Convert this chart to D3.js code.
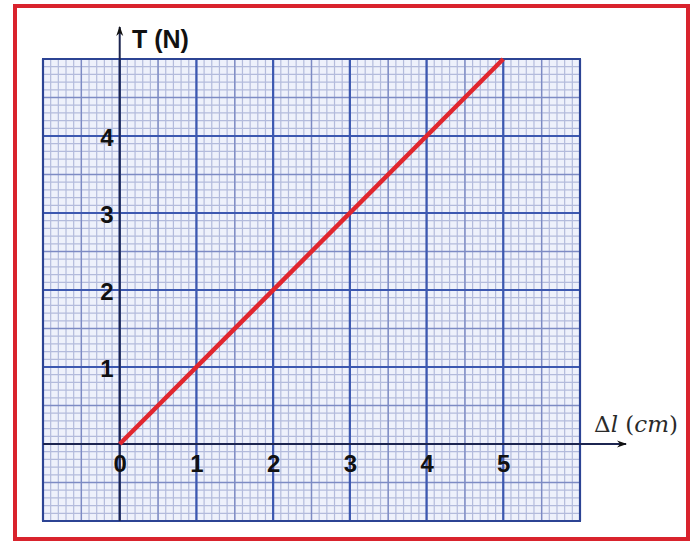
<!DOCTYPE html>
<html>
<head>
<meta charset="utf-8">
<script src="https://cdn.jsdelivr.net/npm/d3@7"></script>
<style>
  body { margin: 0; background: #fff; }
  svg { display: block; }
</style>
</head>
<body>
<script>
// values
var lineData = [{dl: 0, T: 0}, {dl: 5, T: 5}];
var xTicks = [0, 1, 2, 3, 4, 5];
var yTicks = [1, 2, 3, 4];
var yLabel = "T (N)";

var width = 697, height = 541;

var svg = d3.select("body").append("svg")
  .attr("width", width)
  .attr("height", height);

// red frame
svg.append("rect")
  .attr("x", 15).attr("y", 6)
  .attr("width", 673).attr("height", 533)
  .attr("fill", "#fff")
  .attr("stroke", "#d9232d")
  .attr("stroke-width", 4);

var x = d3.scaleLinear().domain([-1, 6]).range([43, 580]);
var y = d3.scaleLinear().domain([-1, 5]).range([521, 59]);

var g = svg.append("g");

// graph paper
g.append("rect")
  .attr("x", x(-1)).attr("y", y(5))
  .attr("width", x(6) - x(-1)).attr("height", y(-1) - y(5))
  .attr("fill", "#eef1fb");

function gridLines(step, color, w) {
  var xs = d3.range(-1, 6.0001, step), ys = d3.range(-1, 5.0001, step);
  g.append("g").selectAll("line").data(xs).enter().append("line")
    .attr("x1", function(d) { return x(d); }).attr("x2", function(d) { return x(d); })
    .attr("y1", y(-1)).attr("y2", y(5))
    .attr("stroke", color).attr("stroke-width", w);
  g.append("g").selectAll("line").data(ys).enter().append("line")
    .attr("y1", function(d) { return y(d); }).attr("y2", function(d) { return y(d); })
    .attr("x1", x(-1)).attr("x2", x(6))
    .attr("stroke", color).attr("stroke-width", w);
}
gridLines(0.1, "#b3bbdc", 1.2);
gridLines(0.5, "#7d8bc4", 1.4);
gridLines(1, "#3c58b0", 2.2);

// border of the paper
g.append("rect")
  .attr("x", x(-1)).attr("y", y(5))
  .attr("width", x(6) - x(-1)).attr("height", y(-1) - y(5))
  .attr("fill", "none")
  .attr("stroke", "#2c4494").attr("stroke-width", 2);

// arrow heads
var defs = svg.append("defs");
defs.append("marker")
  .attr("id", "arrow")
  .attr("viewBox", "0 -4 10 8")
  .attr("refX", 9).attr("refY", 0)
  .attr("markerUnits", "userSpaceOnUse")
  .attr("markerWidth", 11).attr("markerHeight", 8)
  .attr("orient", "auto")
  .append("path")
  .attr("d", "M0,-3.5L10,0L0,3.5L3,0Z")
  .attr("fill", "#111");

// axes lines
g.append("line")
  .attr("x1", x(-1)).attr("x2", 626)
  .attr("y1", y(0)).attr("y2", y(0))
  .attr("stroke", "#1c2550").attr("stroke-width", 2)
  .attr("marker-end", "url(#arrow)");
g.append("line")
  .attr("x1", x(0)).attr("x2", x(0))
  .attr("y1", y(-1)).attr("y2", 27)
  .attr("stroke", "#1c2550").attr("stroke-width", 2)
  .attr("marker-end", "url(#arrow)");

// tick labels
var xAxis = g.append("g")
  .attr("transform", "translate(0," + y(0) + ")")
  .call(d3.axisBottom(x).tickValues(xTicks).tickFormat(d3.format("d"))
    .tickSize(0).tickPadding(11));
var yAxis = g.append("g")
  .attr("transform", "translate(" + x(0) + ",0)")
  .call(d3.axisLeft(y).tickValues(yTicks).tickFormat(d3.format("d"))
    .tickSize(0).tickPadding(6));
[xAxis, yAxis].forEach(function(a) {
  a.select(".domain").remove();
  a.selectAll("text")
    .attr("fill", "#111")
    .attr("font-family", "Liberation Sans, Arial, sans-serif")
    .attr("font-weight", "bold")
    .attr("font-size", "24px");
});
yAxis.selectAll("text").attr("dy", "0.38em");

// red line
var line = d3.line()
  .x(function(d) { return x(d.dl); })
  .y(function(d) { return y(d.T); });
g.append("path")
  .datum(lineData)
  .attr("d", line)
  .attr("fill", "none")
  .attr("stroke", "#e0262e")
  .attr("stroke-width", 4.5);

// axis titles
svg.append("text")
  .attr("x", 132).attr("y", 48)
  .attr("font-family", "Liberation Sans, Arial, sans-serif")
  .attr("font-weight", "bold")
  .attr("font-size", "25px")
  .attr("fill", "#111")
  .text(yLabel);

var xt = svg.append("text")
  .attr("x", 594).attr("y", 432)
  .attr("font-family", "DejaVu Serif, serif")
  .attr("font-size", "23px")
  .attr("fill", "#2a2a2a");
xt.append("tspan").text("Δ");
xt.append("tspan").attr("font-style", "italic").text("l");
xt.append("tspan").text(" (");
xt.append("tspan").attr("font-style", "italic").text("cm");
xt.append("tspan").text(")");
</script>
</body>
</html>
